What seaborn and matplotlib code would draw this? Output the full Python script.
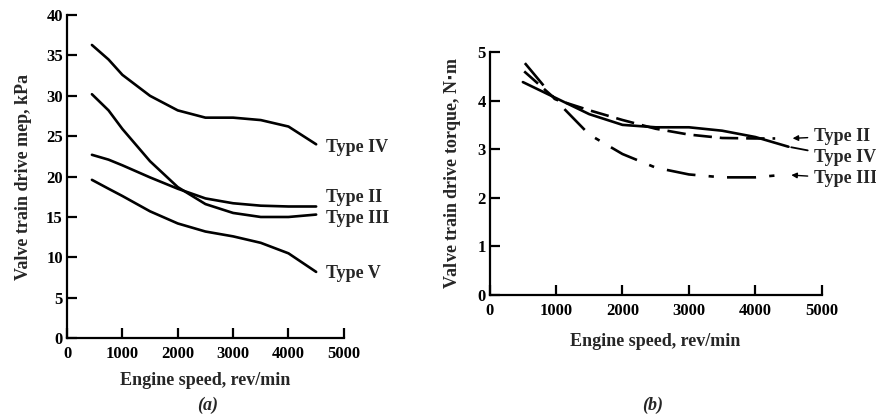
import matplotlib
matplotlib.use("Agg")
import matplotlib.pyplot as plt
import seaborn as sns
import pandas as pd

# ---- data: panel (a) valve train drive mep, kPa ----
speed_a = [450, 750, 1000, 1500, 2000, 2500, 3000, 3500, 4000, 4500]
mep_type4 = [36.3, 34.5, 32.6, 30.0, 28.2, 27.3, 27.3, 27.0, 26.2, 24.0]
mep_type3 = [30.2, 28.2, 25.9, 21.9, 18.7, 16.6, 15.5, 15.0, 15.0, 15.3]
mep_type2 = [22.7, 22.1, 21.4, 19.9, 18.5, 17.3, 16.7, 16.4, 16.3, 16.3]
mep_type5 = [19.6, 18.5, 17.6, 15.7, 14.2, 13.2, 12.6, 11.8, 10.5, 8.2]

# ---- data: panel (b) valve train drive torque, N*m ----
speed_b2 = [520, 1000, 1500, 2000, 2500, 3000, 3500, 4000, 4300]
torque_type2 = [4.60, 4.02, 3.80, 3.60, 3.42, 3.30, 3.23, 3.22, 3.22]
speed_b4 = [500, 1000, 1500, 2000, 2500, 3000, 3500, 4000, 4500]
torque_type4 = [4.38, 4.05, 3.72, 3.50, 3.45, 3.45, 3.38, 3.25, 3.05]
speed_b3 = [530, 1000, 1500, 2000, 2500, 3000, 3500, 4000, 4400]
torque_type3 = [4.77, 4.00, 3.30, 2.90, 2.62, 2.48, 2.42, 2.42, 2.47]

xticks = [0, 1000, 2000, 3000, 4000, 5000]
yticks_a = [0, 5, 10, 15, 20, 25, 30, 35, 40]
yticks_b = [0, 1, 2, 3, 4, 5]

sns.set_theme(style="ticks")
plt.rcParams["font.family"] = ["Liberation Serif", "DejaVu Serif"]
plt.rcParams["font.weight"] = "bold"

fig = plt.figure(figsize=(8.76, 4.19), dpi=100)
axa = fig.add_axes([0.0765, 0.193, 0.316, 0.771])
axb = fig.add_axes([0.559, 0.296, 0.379, 0.580])

lw = 1.9
fs = 13
tfs = 12

def style_axes(ax, yticks, ylim):
    ax.set_xlim(0, 5000)
    ax.set_ylim(*ylim)
    ax.set_xticks(xticks)
    ax.set_yticks(yticks)
    sns.despine(ax=ax)
    for s in ["left", "bottom"]:
        ax.spines[s].set_linewidth(1.6)
        ax.spines[s].set_color("black")
    ax.tick_params(direction="in", length=7, width=1.6, colors="black",
                   labelsize=tfs, pad=3)
    ax.tick_params(axis="x", pad=6)
    for lab in ax.get_xticklabels() + ax.get_yticklabels():
        lab.set_fontweight("bold")
    ax.set_facecolor("white")

# panel (a)
for xs, ys, name, ly in [
    (speed_a, mep_type4, "Type IV", 23.6),
    (speed_a, mep_type2, "Type II", 17.4),
    (speed_a, mep_type3, "Type III", 14.8),
    (speed_a, mep_type5, "Type V", 8.0),
]:
    df = pd.DataFrame({"speed": xs, "val": ys})
    sns.lineplot(data=df, x="speed", y="val", ax=axa, color="black",
                 linewidth=lw, legend=False)
    axa.text(4680, ly, name, fontsize=fs, fontweight="bold", va="center",
             ha="left", clip_on=False)

style_axes(axa, yticks_a, (0, 40))
axa.set_xlabel("Engine speed, rev/min", fontsize=fs, fontweight="bold", labelpad=7)
axa.set_ylabel("Valve train drive mep, kPa", fontsize=fs, fontweight="bold", labelpad=10)

# panel (b)
df2 = pd.DataFrame({"speed": speed_b2, "val": torque_type2})
df4 = pd.DataFrame({"speed": speed_b4, "val": torque_type4})
df3 = pd.DataFrame({"speed": speed_b3, "val": torque_type3})
sns.lineplot(data=df2, x="speed", y="val", ax=axb, color="black", linewidth=lw,
             legend=False)
axb.lines[-1].set_dashes([7, 3])
sns.lineplot(data=df4, x="speed", y="val", ax=axb, color="black", linewidth=lw,
             legend=False)
sns.lineplot(data=df3, x="speed", y="val", ax=axb, color="black", linewidth=lw,
             legend=False)
axb.lines[-1].set_dashes([11, 5, 2, 5])

style_axes(axb, yticks_b, (0, 5))
axb.set_xlabel("Engine speed, rev/min", fontsize=fs, fontweight="bold", labelpad=10)
axb.set_ylabel("Valve train drive torque, N$\\cdot$m", fontsize=fs,
               fontweight="bold", labelpad=10)

arrow = dict(arrowstyle="-|>", color="black", lw=1.0, mutation_scale=8)
axb.annotate("Type II", xy=(4520, 3.22), xytext=(4880, 3.27), fontsize=fs,
             fontweight="bold", va="center", arrowprops=arrow, annotation_clip=False)
axb.annotate("Type IV", xy=(4500, 3.05), xytext=(4880, 2.83), fontsize=fs,
             fontweight="bold", va="center",
             arrowprops=dict(arrowstyle="-", color="black", lw=1.3),
             annotation_clip=False)
axb.annotate("Type III", xy=(4500, 2.47), xytext=(4880, 2.40), fontsize=fs,
             fontweight="bold", va="center", arrowprops=arrow, annotation_clip=False)

fig.text(0.237, 0.033, "(a)", fontsize=fs, fontstyle="italic", ha="center", va="center")
fig.text(0.745, 0.033, "(b)", fontsize=fs, fontstyle="italic", ha="center", va="center")

fig.savefig("out.png", dpi=100, facecolor="white")
